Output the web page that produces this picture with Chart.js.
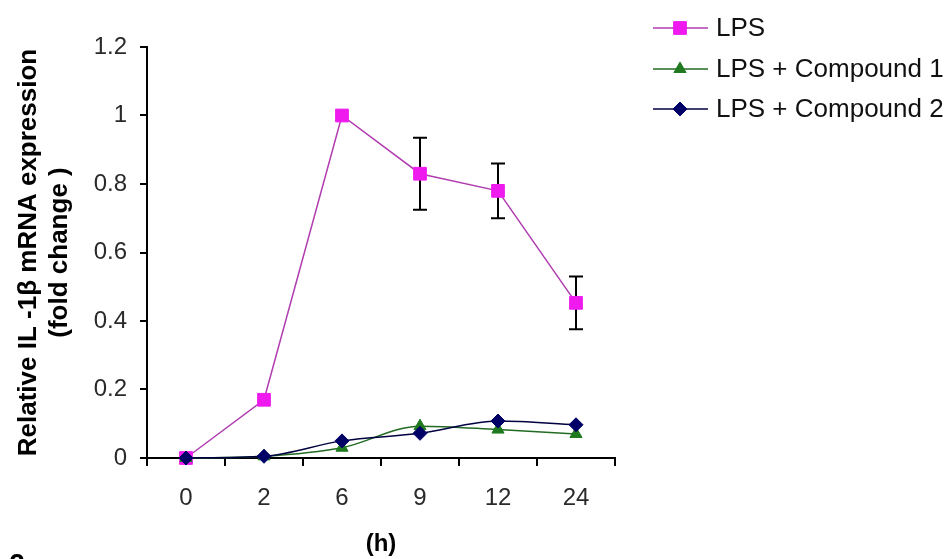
<!DOCTYPE html>
<html>
<head>
<meta charset="utf-8">
<script src="https://cdn.jsdelivr.net/npm/chart.js"></script>
<style>
  html, body { margin: 0; padding: 0; background: #fff; }
  #wrap { width: 952px; height: 559px; }
</style>
</head>
<body>
<div id="wrap"><canvas id="chart" width="952" height="559"></canvas></div>
<script>
// time points (h) and fold-change values
const hours = ['0', '2', '6', '9', '12', '24'];
const lps = [0.0, 0.17, 1.0, 0.83, 0.78, 0.453];
const lpsErr = [0, 0, 0, 0.105, 0.08, 0.077];
const compound1 = [0.0, 0.005, 0.03, 0.093, 0.083, 0.07];
const compound2 = [0.0, 0.005, 0.05, 0.072, 0.108, 0.097];
const seriesNames = ['LPS', 'LPS + Compound 1', 'LPS + Compound 2'];
const yTicks = [0, 0.2, 0.4, 0.6, 0.8, 1, 1.2];

const FONT = '"Liberation Sans", Arial, sans-serif';

// error bars for LPS, drawn under the markers
const errorBars = {
    id: 'errorBars',
    beforeDatasetsDraw(chart) {
        const ctx = chart.ctx;
        const x = chart.scales.x, y = chart.scales.y;
        ctx.save();
        ctx.strokeStyle = '#000';
        ctx.lineWidth = 2;
        lps.forEach((v, i) => {
            const e = lpsErr[i];
            if (!e) return;
            const px = x.getPixelForValue(i);
            const top = y.getPixelForValue(v + e);
            const bot = y.getPixelForValue(v - e);
            ctx.beginPath();
            ctx.moveTo(px, top); ctx.lineTo(px, bot);
            ctx.moveTo(px - 7, top); ctx.lineTo(px + 7, top);
            ctx.moveTo(px - 7, bot); ctx.lineTo(px + 7, bot);
            ctx.stroke();
        });
        ctx.restore();
    }
};

// Excel-style legend: line with marker, then the label
const sideLegend = {
    id: 'sideLegend',
    afterDraw(chart) {
        const ctx = chart.ctx;
        const rows = [28, 69, 109];
        ctx.save();
        chart.data.datasets.forEach((ds, i) => {
            const yy = rows[i];
            ctx.strokeStyle = ds.borderColor;
            ctx.lineWidth = 1.5;
            ctx.beginPath();
            ctx.moveTo(653, yy); ctx.lineTo(708, yy);
            ctx.stroke();
            ctx.fillStyle = ds.pointBackgroundColor;
            ctx.strokeStyle = ds.pointBorderColor;
            ctx.lineWidth = 1;
            Chart.helpers.drawPoint(ctx, {pointStyle: ds.pointStyle, radius: ds.pointRadius, borderWidth: 1}, 680, yy);
            ctx.fillStyle = '#111';
            ctx.font = '26px ' + FONT;
            ctx.textAlign = 'left';
            ctx.textBaseline = 'middle';
            ctx.fillText(seriesNames[i], 716, yy + 1);
        });
        // clipped panel label at the bottom edge
        ctx.font = 'bold 28px ' + FONT;
        ctx.textBaseline = 'top';
        ctx.fillStyle = '#000';
        ctx.fillText('-2', 0, 551);
        ctx.restore();
    }
};

new Chart(document.getElementById('chart'), {
    type: 'line',
    data: {
        labels: hours,
        datasets: [
            {
                label: seriesNames[0],
                data: lps,
                order: 3,
                borderColor: '#b03cb0',
                borderWidth: 1.5,
                pointStyle: 'rect',
                pointRadius: 9,
                pointBackgroundColor: '#ee1aee',
                pointBorderColor: '#ee1aee',
                pointBorderWidth: 1,
                tension: 0,
                clip: false
            },
            {
                label: seriesNames[1],
                data: compound1,
                order: 2,
                borderColor: '#236b23',
                borderWidth: 1.5,
                pointStyle: 'triangle',
                pointRadius: 7,
                pointBackgroundColor: '#1f7a1f',
                pointBorderColor: '#1f7a1f',
                pointBorderWidth: 1,
                tension: 0.3,
                cubicInterpolationMode: 'monotone',
                clip: false
            },
            {
                label: seriesNames[2],
                data: compound2,
                order: 1,
                borderColor: '#000040',
                borderWidth: 1.5,
                pointStyle: 'rectRot',
                pointRadius: 7,
                pointBackgroundColor: '#000066',
                pointBorderColor: '#000066',
                pointBorderWidth: 1,
                tension: 0.3,
                cubicInterpolationMode: 'monotone',
                clip: false
            }
        ]
    },
    options: {
        responsive: false,
        animation: false,
        devicePixelRatio: 1,
        layout: { padding: { left: 0, top: 47, right: 337, bottom: 0 } },
        plugins: {
            legend: { display: false },
            tooltip: { enabled: false }
        },
        scales: {
            x: {
                offset: true,
                grid: { offset: true, drawOnChartArea: false, drawTicks: true, tickLength: 8, color: '#000', lineWidth: 2 },
                border: { display: true, color: '#000', width: 2 },
                ticks: { color: '#2a2a2a', font: { family: FONT, size: 24 }, padding: 18, maxRotation: 0 },
                title: {
                    display: true, text: '(h)', color: '#000',
                    font: { family: FONT, size: 24, weight: 'bold', lineHeight: 1 },
                    padding: { top: 0, bottom: 3 }
                },
                afterFit(s) { s.height = 101; }
            },
            y: {
                min: 0,
                max: 1.2,
                afterBuildTicks(s) { s.ticks = yTicks.map(v => ({ value: v })); },
                grid: { drawOnChartArea: false, drawTicks: true, tickLength: 7, color: '#000', lineWidth: 2 },
                border: { display: true, color: '#000', width: 2 },
                ticks: {
                    color: '#2a2a2a', font: { family: FONT, size: 24 }, padding: 13,
                    callback: v => String(Math.round(v * 10) / 10)
                },
                title: {
                    display: true,
                    text: ['Relative IL -1\u03b2 mRNA expression', '(fold change )'],
                    color: '#000',
                    font: { family: FONT, size: 26, weight: 'bold', lineHeight: 1.2 },
                    padding: { top: 13, bottom: 0 }
                },
                afterFit(s) { s.width = 147; }
            }
        }
    },
    plugins: [errorBars, sideLegend]
});
</script>
</body>
</html>
